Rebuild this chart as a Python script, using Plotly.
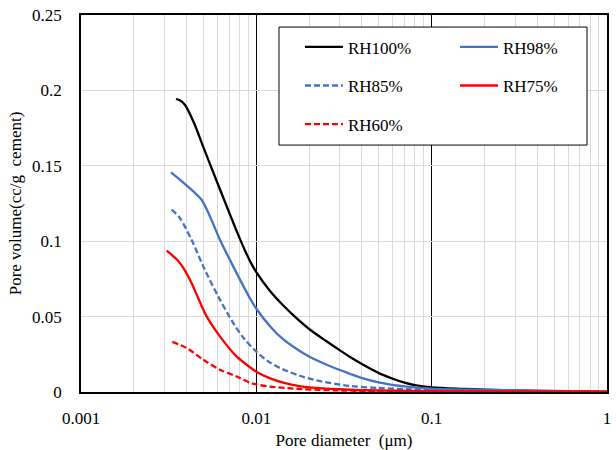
import plotly.graph_objects as go

# ---- data ----
d_rh100 = [0.00348, 0.00366, 0.00391, 0.00437, 0.00498, 0.00593, 0.00706, 0.00780, 0.00860, 0.00930,
           0.0100, 0.0120, 0.0142, 0.0170, 0.0200, 0.0250, 0.0300, 0.0350, 0.0400, 0.0500, 0.0600,
           0.0700, 0.0800, 0.100, 0.15, 0.2, 0.3, 0.5, 0.7, 1.0]
v_rh100 = [0.1943, 0.1934, 0.1905, 0.1795, 0.1626, 0.1401, 0.1180, 0.1055, 0.0940, 0.0858,
           0.0795, 0.0668, 0.0575, 0.0488, 0.0418, 0.0338, 0.0276, 0.0225, 0.0185, 0.0125, 0.0088,
           0.0062, 0.0046, 0.0031, 0.0021, 0.0016, 0.0010, 0.0006, 0.0003, 0.0001]

d_rh98 = [0.00326, 0.00366, 0.00437, 0.00487, 0.00544, 0.00620, 0.00738, 0.00918, 0.0100, 0.0120,
          0.0142, 0.0170, 0.0200, 0.0262, 0.0341, 0.0389, 0.0506, 0.0718, 0.100, 0.2, 0.5, 1.0]
v_rh98 = [0.1456, 0.1408, 0.1330, 0.1275, 0.1164, 0.1010, 0.0833, 0.0623, 0.0552, 0.0435,
          0.0350, 0.0285, 0.0235, 0.0172, 0.0121, 0.0097, 0.0062, 0.0035, 0.0022, 0.0014, 0.0008, 0.0003]

d_rh85 = [0.00329, 0.00366, 0.00427, 0.00498, 0.00606, 0.00738, 0.00850, 0.0100, 0.0118, 0.0142,
          0.0175, 0.0220, 0.0341, 0.0500, 0.0718, 0.100, 0.2, 0.5, 1.0]
v_rh85 = [0.1209, 0.1154, 0.1010, 0.0833, 0.0634, 0.0458, 0.0355, 0.0268, 0.0200, 0.0150,
          0.0110, 0.0077, 0.0040, 0.0027, 0.0019, 0.0015, 0.0009, 0.0005, 0.0002]

d_rh75 = [0.00308, 0.00351, 0.00375, 0.00400, 0.00430, 0.00456, 0.00520, 0.00620, 0.00771, 0.00918,
          0.0100, 0.0120, 0.0142, 0.0180, 0.0220, 0.0341, 0.0500, 0.100, 0.3, 1.0]
v_rh75 = [0.0937, 0.0880, 0.0840, 0.0787, 0.0715, 0.0648, 0.0503, 0.0369, 0.0236, 0.0165,
          0.0135, 0.0090, 0.0062, 0.0038, 0.0027, 0.0015, 0.0010, 0.0006, 0.0004, 0.0003]

d_rh60 = [0.00332, 0.00400, 0.00498, 0.00620, 0.00771, 0.00918, 0.0100, 0.0119, 0.0178, 0.0300,
          0.0600, 0.100, 0.3, 1.0]
v_rh60 = [0.0332, 0.0292, 0.0214, 0.0148, 0.0103, 0.0062, 0.0050, 0.0036, 0.0020, 0.0010,
          0.0006, 0.0004, 0.0003, 0.0002]

series_names = ["RH100%", "RH98%", "RH85%", "RH75%", "RH60%"]
x_tick_vals = [0.001, 0.01, 0.1, 1]
x_tick_text = ["0.001", "0.01", "0.1", "1"]
y_tick_vals = [0, 0.05, 0.1, 0.15, 0.2, 0.25]
y_tick_text = ["0", "0.05", "0.1", "0.15", "0.2", "0.25"]

BLUE = "#4472C4"
RED = "#FF0000"
FONT = "Liberation Serif, Times New Roman, serif"

styles = [
    dict(color="black", dash="solid", legend="legend", group="a"),
    dict(color=BLUE, dash="solid", legend="legend2", group="b"),
    dict(color=BLUE, dash="6px,3px", legend="legend", group="c"),
    dict(color=RED, dash="solid", legend="legend2", group="d"),
    dict(color=RED, dash="6px,3px", legend="legend", group="e"),
]
xs = [d_rh100, d_rh98, d_rh85, d_rh75, d_rh60]
ys = [v_rh100, v_rh98, v_rh85, v_rh75, v_rh60]

fig = go.Figure()
for name, x, y, st in zip(series_names, xs, ys, styles):
    fig.add_trace(go.Scatter(
        x=x, y=y, name=name, mode="lines",
        line=dict(color=st["color"], width=2.3, dash=st["dash"], shape="spline", smoothing=0.9),
        legend=st["legend"], legendgroup=st["group"],
    ))

legend_common = dict(
    font=dict(family=FONT, size=17, color="black"),
    bgcolor="rgba(0,0,0,0)", borderwidth=0,
    orientation="v", xanchor="left", yanchor="top",
    tracegroupgap=13.5, itemwidth=38,
)

fig.update_layout(
    width=616, height=450,
    margin=dict(l=81, r=9, t=15, b=58),
    paper_bgcolor="white", plot_bgcolor="white",
    font=dict(family=FONT, size=17, color="black"),
    showlegend=True,
    legend=dict(x=0.4163, y=0.962, **legend_common),
    legend2=dict(x=0.711, y=0.962, **legend_common),
    shapes=[dict(type="rect", xref="paper", yref="paper",
                 x0=0.3764, x1=0.962, y0=0.655, y1=0.968,
                 line=dict(color="black", width=1), fillcolor="white", layer="above")],
)

fig.update_xaxes(
    type="log", range=[-3, 0], automargin=False,
    tickmode="array", tickvals=x_tick_vals, ticktext=x_tick_text,
    showgrid=True, gridcolor="black", gridwidth=1,
    minor=dict(showgrid=True, gridcolor="#d9d9d9", gridwidth=1, dtick="D1", tickmode="linear"),
    showline=True, linecolor="black", linewidth=1.5, mirror=True,
    ticks="", ticklabelstandoff=10,
    tickfont=dict(family=FONT, size=17),
    title=dict(text="Pore diameter\u00a0 (\u03bcm)", font=dict(family=FONT, size=17), standoff=8),
    zeroline=False,
)
fig.update_yaxes(
    range=[0, 0.25], automargin=False,
    tickmode="array", tickvals=y_tick_vals, ticktext=y_tick_text,
    showgrid=True, gridcolor="#d9d9d9", gridwidth=1,
    showline=True, linecolor="black", linewidth=1.5, mirror=True,
    ticks="", ticklabelstandoff=14,
    tickfont=dict(family=FONT, size=17),
    title=dict(text="Pore volume(cc/g\u00a0 cement)", font=dict(family=FONT, size=17), standoff=6),
    zeroline=False,
)

fig.write_html("out.html")
